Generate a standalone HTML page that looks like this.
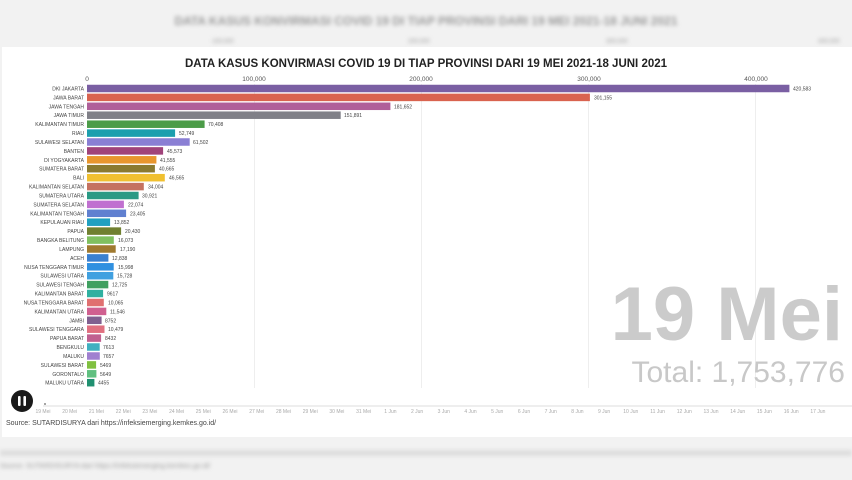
<!DOCTYPE html>
<html><head><meta charset="utf-8"><style>
html,body{margin:0;padding:0;width:852px;height:480px;overflow:hidden;background:#f3f3f3;font-family:"Liberation Sans",sans-serif}
svg{display:block}
.l{font-size:5px;fill:#444;text-anchor:end}
.v{font-size:5px;fill:#444}
.t{font-size:5px;fill:#aaa;text-anchor:middle}
</style></head><body>
<svg width="852" height="480" viewBox="0 0 852 480">
<defs><filter id="b"><feGaussianBlur stdDeviation="2"/></filter></defs>
<rect width="852" height="480" fill="#f2f2f2"/>
<g filter="url(#b)" fill="#999">
<text x="426" y="25" font-size="12" font-weight="bold" text-anchor="middle">DATA KASUS KONVIRMASI COVID 19 DI TIAP PROVINSI DARI 19 MEI 2021-18 JUNI 2021</text>
<text x="212" y="43" font-size="6">100,000</text><text x="408" y="43" font-size="6">200,000</text><text x="606" y="43" font-size="6">300,000</text><text x="818" y="43" font-size="6">400,000</text>
<rect x="0" y="450" width="852" height="6" fill="#ddd"/>
<text x="0" y="468" font-size="7">Source: SUTARDISURYA dari https://infeksiemerging.kemkes.go.id/</text>
</g>
<rect x="2" y="47" width="850" height="390" fill="#fff"/>
<text x="426" y="67" font-size="11.5" font-weight="bold" fill="#222" text-anchor="middle">DATA KASUS KONVIRMASI COVID 19 DI TIAP PROVINSI DARI 19 MEI 2021-18 JUNI 2021</text>
<g font-size="6.5" fill="#555" text-anchor="middle">
<text x="87" y="81">0</text><text x="254" y="81">100,000</text><text x="421" y="81">200,000</text><text x="589" y="81">300,000</text><text x="756" y="81">400,000</text>
</g>
<g stroke="#eee" stroke-width="1">
<line x1="254.5" y1="84" x2="254.5" y2="388"/><line x1="421.5" y1="84" x2="421.5" y2="388"/><line x1="588.5" y1="84" x2="588.5" y2="388"/><line x1="755.5" y1="84" x2="755.5" y2="388"/>
</g>
<text x="843" y="340" font-size="76" font-weight="bold" fill="#cbcbcb" text-anchor="end">19 Mei</text>
<text x="845" y="382" font-size="30" fill="#c8c8c8" text-anchor="end">Total: 1,753,776</text>
<g>
<g transform="translate(0,88.5)"><text class="l" x="84" y="2">DKI JAKARTA</text><rect x="87" y="-3.75" width="702.4" height="7.5" fill="#7a5fa3"/><text class="v" x="793" y="2">420,583</text></g>
<g transform="translate(0,97.4)"><text class="l" x="84" y="2">JAWA BARAT</text><rect x="87" y="-3.75" width="502.9" height="7.5" fill="#d9634f"/><text class="v" x="594" y="2">301,155</text></g>
<g transform="translate(0,106.3)"><text class="l" x="84" y="2">JAWA TENGAH</text><rect x="87" y="-3.75" width="303.4" height="7.5" fill="#b0609a"/><text class="v" x="394" y="2">181,652</text></g>
<g transform="translate(0,115.2)"><text class="l" x="84" y="2">JAWA TIMUR</text><rect x="87" y="-3.75" width="253.7" height="7.5" fill="#808088"/><text class="v" x="344" y="2">151,891</text></g>
<g transform="translate(0,124.2)"><text class="l" x="84" y="2">KALIMANTAN TIMUR</text><rect x="87" y="-3.75" width="117.6" height="7.5" fill="#4c9c48"/><text class="v" x="208" y="2">70,408</text></g>
<g transform="translate(0,133.1)"><text class="l" x="84" y="2">RIAU</text><rect x="87" y="-3.75" width="88.1" height="7.5" fill="#1c9fae"/><text class="v" x="179" y="2">52,749</text></g>
<g transform="translate(0,142.0)"><text class="l" x="84" y="2">SULAWESI SELATAN</text><rect x="87" y="-3.75" width="102.7" height="7.5" fill="#8a7fd4"/><text class="v" x="193" y="2">61,502</text></g>
<g transform="translate(0,150.9)"><text class="l" x="84" y="2">BANTEN</text><rect x="87" y="-3.75" width="76.1" height="7.5" fill="#a0437a"/><text class="v" x="167" y="2">45,573</text></g>
<g transform="translate(0,159.8)"><text class="l" x="84" y="2">DI YOGYAKARTA</text><rect x="87" y="-3.75" width="69.4" height="7.5" fill="#e8962e"/><text class="v" x="160" y="2">41,555</text></g>
<g transform="translate(0,168.7)"><text class="l" x="84" y="2">SUMATERA BARAT</text><rect x="87" y="-3.75" width="67.9" height="7.5" fill="#8a7a30"/><text class="v" x="159" y="2">40,665</text></g>
<g transform="translate(0,177.7)"><text class="l" x="84" y="2">BALI</text><rect x="87" y="-3.75" width="77.8" height="7.5" fill="#f0c030"/><text class="v" x="169" y="2">46,565</text></g>
<g transform="translate(0,186.6)"><text class="l" x="84" y="2">KALIMANTAN SELATAN</text><rect x="87" y="-3.75" width="56.8" height="7.5" fill="#c57260"/><text class="v" x="148" y="2">34,004</text></g>
<g transform="translate(0,195.5)"><text class="l" x="84" y="2">SUMATERA UTARA</text><rect x="87" y="-3.75" width="51.6" height="7.5" fill="#2a9a85"/><text class="v" x="142" y="2">30,921</text></g>
<g transform="translate(0,204.4)"><text class="l" x="84" y="2">SUMATERA SELATAN</text><rect x="87" y="-3.75" width="36.9" height="7.5" fill="#c070d0"/><text class="v" x="128" y="2">22,074</text></g>
<g transform="translate(0,213.3)"><text class="l" x="84" y="2">KALIMANTAN TENGAH</text><rect x="87" y="-3.75" width="39.1" height="7.5" fill="#6080d0"/><text class="v" x="130" y="2">23,405</text></g>
<g transform="translate(0,222.2)"><text class="l" x="84" y="2">KEPULAUAN RIAU</text><rect x="87" y="-3.75" width="23.1" height="7.5" fill="#20a0c0"/><text class="v" x="114" y="2">13,852</text></g>
<g transform="translate(0,231.1)"><text class="l" x="84" y="2">PAPUA</text><rect x="87" y="-3.75" width="34.1" height="7.5" fill="#708030"/><text class="v" x="125" y="2">20,430</text></g>
<g transform="translate(0,240.1)"><text class="l" x="84" y="2">BANGKA BELITUNG</text><rect x="87" y="-3.75" width="26.8" height="7.5" fill="#80c060"/><text class="v" x="118" y="2">16,073</text></g>
<g transform="translate(0,249.0)"><text class="l" x="84" y="2">LAMPUNG</text><rect x="87" y="-3.75" width="28.7" height="7.5" fill="#a07a30"/><text class="v" x="120" y="2">17,190</text></g>
<g transform="translate(0,257.9)"><text class="l" x="84" y="2">ACEH</text><rect x="87" y="-3.75" width="21.4" height="7.5" fill="#3a80d0"/><text class="v" x="112" y="2">12,838</text></g>
<g transform="translate(0,266.8)"><text class="l" x="84" y="2">NUSA TENGGARA TIMUR</text><rect x="87" y="-3.75" width="26.7" height="7.5" fill="#3090e0"/><text class="v" x="118" y="2">15,998</text></g>
<g transform="translate(0,275.7)"><text class="l" x="84" y="2">SULAWESI UTARA</text><rect x="87" y="-3.75" width="26.3" height="7.5" fill="#40a0e0"/><text class="v" x="117" y="2">15,728</text></g>
<g transform="translate(0,284.6)"><text class="l" x="84" y="2">SULAWESI TENGAH</text><rect x="87" y="-3.75" width="21.3" height="7.5" fill="#40a060"/><text class="v" x="112" y="2">12,725</text></g>
<g transform="translate(0,293.5)"><text class="l" x="84" y="2">KALIMANTAN BARAT</text><rect x="87" y="-3.75" width="16.1" height="7.5" fill="#30b0a0"/><text class="v" x="107" y="2">9617</text></g>
<g transform="translate(0,302.5)"><text class="l" x="84" y="2">NUSA TENGGARA BARAT</text><rect x="87" y="-3.75" width="16.8" height="7.5" fill="#e07070"/><text class="v" x="108" y="2">10,065</text></g>
<g transform="translate(0,311.4)"><text class="l" x="84" y="2">KALIMANTAN UTARA</text><rect x="87" y="-3.75" width="19.3" height="7.5" fill="#d06090"/><text class="v" x="110" y="2">11,546</text></g>
<g transform="translate(0,320.3)"><text class="l" x="84" y="2">JAMBI</text><rect x="87" y="-3.75" width="14.6" height="7.5" fill="#806090"/><text class="v" x="105" y="2">8752</text></g>
<g transform="translate(0,329.2)"><text class="l" x="84" y="2">SULAWESI TENGGARA</text><rect x="87" y="-3.75" width="17.5" height="7.5" fill="#e07080"/><text class="v" x="108" y="2">10,479</text></g>
<g transform="translate(0,338.1)"><text class="l" x="84" y="2">PAPUA BARAT</text><rect x="87" y="-3.75" width="14.1" height="7.5" fill="#c06090"/><text class="v" x="105" y="2">8432</text></g>
<g transform="translate(0,347.0)"><text class="l" x="84" y="2">BENGKULU</text><rect x="87" y="-3.75" width="12.7" height="7.5" fill="#40b0c0"/><text class="v" x="103" y="2">7613</text></g>
<g transform="translate(0,356.0)"><text class="l" x="84" y="2">MALUKU</text><rect x="87" y="-3.75" width="12.8" height="7.5" fill="#a080d0"/><text class="v" x="103" y="2">7657</text></g>
<g transform="translate(0,364.9)"><text class="l" x="84" y="2">SULAWESI BARAT</text><rect x="87" y="-3.75" width="9.1" height="7.5" fill="#80c040"/><text class="v" x="100" y="2">5469</text></g>
<g transform="translate(0,373.8)"><text class="l" x="84" y="2">GORONTALO</text><rect x="87" y="-3.75" width="9.4" height="7.5" fill="#60c080"/><text class="v" x="100" y="2">5649</text></g>
<g transform="translate(0,382.7)"><text class="l" x="84" y="2">MALUKU UTARA</text><rect x="87" y="-3.75" width="7.4" height="7.5" fill="#209070"/><text class="v" x="98" y="2">4455</text></g>
</g>
<circle cx="22" cy="401" r="11" fill="#1a1a1a"/>
<rect x="18" y="396" width="2.6" height="10" rx="1" fill="#fff"/><rect x="23.4" y="396" width="2.6" height="10" rx="1" fill="#fff"/>
<line x1="43" y1="406" x2="852" y2="406" stroke="#ddd" stroke-width="1"/>
<circle cx="45" cy="404" r="1" fill="#888"/>
<g>
<text class="t" x="43" y="413">19 Mei</text><text class="t" x="69.7" y="413">20 Mei</text><text class="t" x="96.4" y="413">21 Mei</text><text class="t" x="123.2" y="413">22 Mei</text><text class="t" x="149.9" y="413">23 Mei</text><text class="t" x="176.6" y="413">24 Mei</text><text class="t" x="203.3" y="413">25 Mei</text><text class="t" x="230" y="413">26 Mei</text><text class="t" x="256.8" y="413">27 Mei</text><text class="t" x="283.5" y="413">28 Mei</text><text class="t" x="310.2" y="413">29 Mei</text><text class="t" x="336.9" y="413">30 Mei</text><text class="t" x="363.6" y="413">31 Mei</text><text class="t" x="390.4" y="413">1 Jun</text><text class="t" x="417.1" y="413">2 Jun</text><text class="t" x="443.8" y="413">3 Jun</text><text class="t" x="470.5" y="413">4 Jun</text><text class="t" x="497.2" y="413">5 Jun</text><text class="t" x="524" y="413">6 Jun</text><text class="t" x="550.7" y="413">7 Jun</text><text class="t" x="577.4" y="413">8 Jun</text><text class="t" x="604.1" y="413">9 Jun</text><text class="t" x="630.8" y="413">10 Jun</text><text class="t" x="657.6" y="413">11 Jun</text><text class="t" x="684.3" y="413">12 Jun</text><text class="t" x="711" y="413">13 Jun</text><text class="t" x="737.7" y="413">14 Jun</text><text class="t" x="764.4" y="413">15 Jun</text><text class="t" x="791.2" y="413">16 Jun</text><text class="t" x="817.9" y="413">17 Jun</text>
</g>
<text x="6" y="425" font-size="7" fill="#444">Source: SUTARDISURYA dari https://infeksiemerging.kemkes.go.id/</text>
</svg>
</body></html>
